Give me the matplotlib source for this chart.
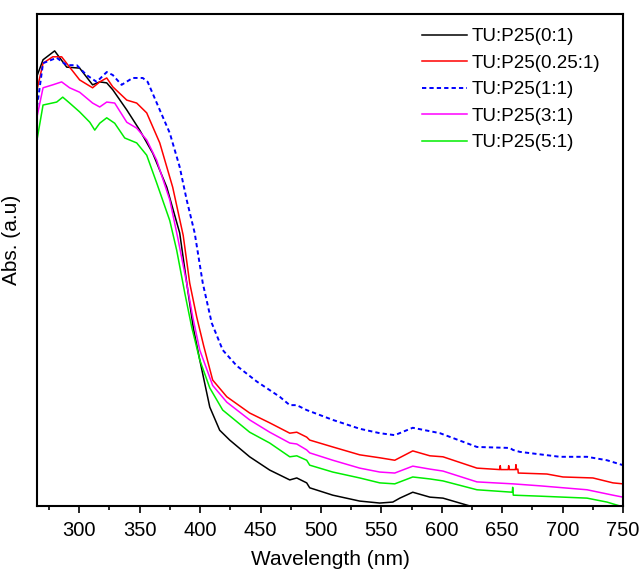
import numpy as np
import matplotlib
matplotlib.use("Agg")
import matplotlib.pyplot as plt
from matplotlib.ticker import MultipleLocator

plt.rcParams['font.family'] = ['Liberation Sans', 'DejaVu Sans']

# TU:P25(0:1)
wl_0 = [265, 270, 279.6, 289.6, 300.3, 311, 316.9, 322.7, 327.7, 339.3, 350, 360.8,
        372.4, 383.1, 389.7, 394.5, 399.7, 408, 416.2, 424.5, 441, 457.6, 474.2,
        480, 488.2, 490.7, 509.8, 532.1, 548.7, 559.5, 565.3, 576, 590.2, 601, 623.3, 630]
ab_0 = [0.874, 0.907, 0.925, 0.892, 0.890, 0.856, 0.862, 0.860, 0.846, 0.805, 0.764, 0.717,
        0.648, 0.555, 0.440, 0.360, 0.297, 0.201, 0.154, 0.134, 0.100, 0.073, 0.053,
        0.057, 0.047, 0.037, 0.022, 0.010, 0.006, 0.008, 0.016, 0.028, 0.018, 0.016, 0.0, -0.004]

# TU:P25(0.25:1)
wl_025 = [265, 270, 278, 285.4, 292, 300.3, 311, 316.9, 322.7, 327.7, 339.3, 347.5, 355.8,
          366.6, 377.3, 386, 391.4, 397.2, 403, 410.4, 422.1, 441, 457.6, 474.2, 480,
          488.2, 490.7, 509.8, 532.1, 548.7, 561.1, 576, 590.2, 601, 629.1, 648, 648.4,
          648.8, 655, 655.4, 655.8, 661, 661.4, 661.8, 663, 663.3, 687, 700.3, 725.1, 741.7, 750]
ab_025 = [0.846, 0.900, 0.913, 0.913, 0.892, 0.866, 0.850, 0.862, 0.870, 0.852, 0.825, 0.819, 0.799,
          0.738, 0.648, 0.550, 0.453, 0.384, 0.325, 0.256, 0.222, 0.189, 0.169, 0.148, 0.150,
          0.140, 0.134, 0.120, 0.104, 0.098, 0.093, 0.112, 0.102, 0.100, 0.077, 0.074, 0.082,
          0.074, 0.074, 0.082, 0.074, 0.074, 0.084, 0.074, 0.075, 0.067, 0.065, 0.059, 0.057, 0.047, 0.045]

# TU:P25(1:1)
wl_1 = [265, 270, 281.3, 289.6, 297.9, 306, 314.4, 322.7, 327.7, 335, 344.2, 352.5, 356.6,
        366.6, 374.9, 383.1, 388.9, 395.5, 402.2, 409.6, 418.7, 430.3, 446.9, 465.9,
        474.2, 480, 488.2, 509.8, 532.1, 548.7, 561.1, 576, 598.5, 629.1, 656.4, 658.9,
        664.7, 697.8, 720.2, 736.7, 750]
ab_1 = [0.811, 0.900, 0.911, 0.896, 0.896, 0.876, 0.862, 0.882, 0.876, 0.856, 0.870, 0.870, 0.862,
        0.805, 0.758, 0.689, 0.622, 0.555, 0.453, 0.372, 0.317, 0.285, 0.253, 0.222,
        0.205, 0.205, 0.195, 0.175, 0.157, 0.148, 0.144, 0.159, 0.148, 0.120, 0.118, 0.114,
        0.110, 0.100, 0.100, 0.093, 0.083]

# TU:P25(3:1)
wl_3 = [265, 270, 278, 285.4, 292, 300.3, 311, 316.9, 322.7, 329.3, 339.3, 347.5, 355.8,
        364, 374.9, 381.5, 388.9, 393.9, 399.7, 410.4, 422.1, 441, 457.6, 474.2, 480,
        488.2, 490.7, 509.8, 532.1, 548.7, 561.1, 576, 590.2, 601, 629.1, 658.9, 681.2,
        720.2, 741.7, 750]
ab_3 = [0.791, 0.850, 0.856, 0.862, 0.850, 0.841, 0.819, 0.811, 0.821, 0.819, 0.780, 0.768, 0.744,
        0.703, 0.622, 0.545, 0.453, 0.384, 0.317, 0.245, 0.211, 0.175, 0.150, 0.128, 0.126,
        0.114, 0.108, 0.093, 0.077, 0.069, 0.067, 0.081, 0.075, 0.071, 0.049, 0.045, 0.041,
        0.033, 0.022, 0.018]

# TU:P25(5:1)
wl_5 = [265, 270, 281.3, 286.3, 292, 300.3, 308.7, 312.8, 316.9, 322.7, 329.3, 337.6, 347.5,
        355.8, 364, 374.9, 380.6, 387.3, 393, 399.7, 408, 418.7, 441, 457.6, 474.2, 480,
        488.2, 490.7, 509.8, 532.1, 548.7, 561.1, 576, 590.2, 601, 629.1, 658.4, 658.7,
        659.2, 681.2, 720.2, 736.7, 747.5, 752]
ab_5 = [0.744, 0.815, 0.821, 0.831, 0.819, 0.801, 0.780, 0.764, 0.778, 0.789, 0.778, 0.748, 0.738,
        0.713, 0.657, 0.580, 0.520, 0.433, 0.364, 0.297, 0.240, 0.195, 0.150, 0.128, 0.100, 0.102,
        0.093, 0.083, 0.069, 0.057, 0.047, 0.045, 0.059, 0.055, 0.051, 0.033, 0.028, 0.038,
        0.022, 0.020, 0.016, 0.008, 0.0, -0.004]

fig = plt.figure(figsize=(6.41, 5.70), dpi=100)
ax = fig.add_axes([37 / 641, 64 / 570, 586 / 641, 492 / 570])

lw = 1.1
ax.plot(wl_0, ab_0, color='black', lw=lw, label='TU:P25(0:1)')
ax.plot(wl_025, ab_025, color='#ff0000', lw=lw, label='TU:P25(0.25:1)')
ax.plot(wl_1, ab_1, color='#0000ff', lw=1.4, ls=(0, (2.2, 1.6)), label='TU:P25(1:1)')
ax.plot(wl_3, ab_3, color='#ff00ff', lw=lw, label='TU:P25(3:1)')
ax.plot(wl_5, ab_5, color='#00ee00', lw=lw, label='TU:P25(5:1)')

ax.set_xlim(265, 750)
ax.set_ylim(0, 1.0)
ax.xaxis.set_major_locator(MultipleLocator(50))
ax.xaxis.set_minor_locator(MultipleLocator(25))
ax.set_yticks([])
ax.tick_params(axis='x', which='major', direction='out', length=5, width=1.2, labelsize=14.5, pad=6)
ax.tick_params(axis='x', which='minor', direction='out', length=3, width=1.2)
for s in ax.spines.values():
    s.set_linewidth(1.5)

ax.set_xlabel('Wavelength (nm)', fontsize=15, labelpad=7)
ax.set_ylabel('Abs. (a.u)', fontsize=15)
ax.yaxis.set_label_coords(-0.028, 0.54)

ax.legend(loc='upper left', bbox_to_anchor=(422 / 641, 1 - 28 / 570), bbox_transform=fig.transFigure,
          frameon=False, fontsize=13.5, handlelength=2.4, handletextpad=0.25,
          labelspacing=0.5, borderaxespad=0, borderpad=0)

fig.savefig('out.png', dpi=100)
